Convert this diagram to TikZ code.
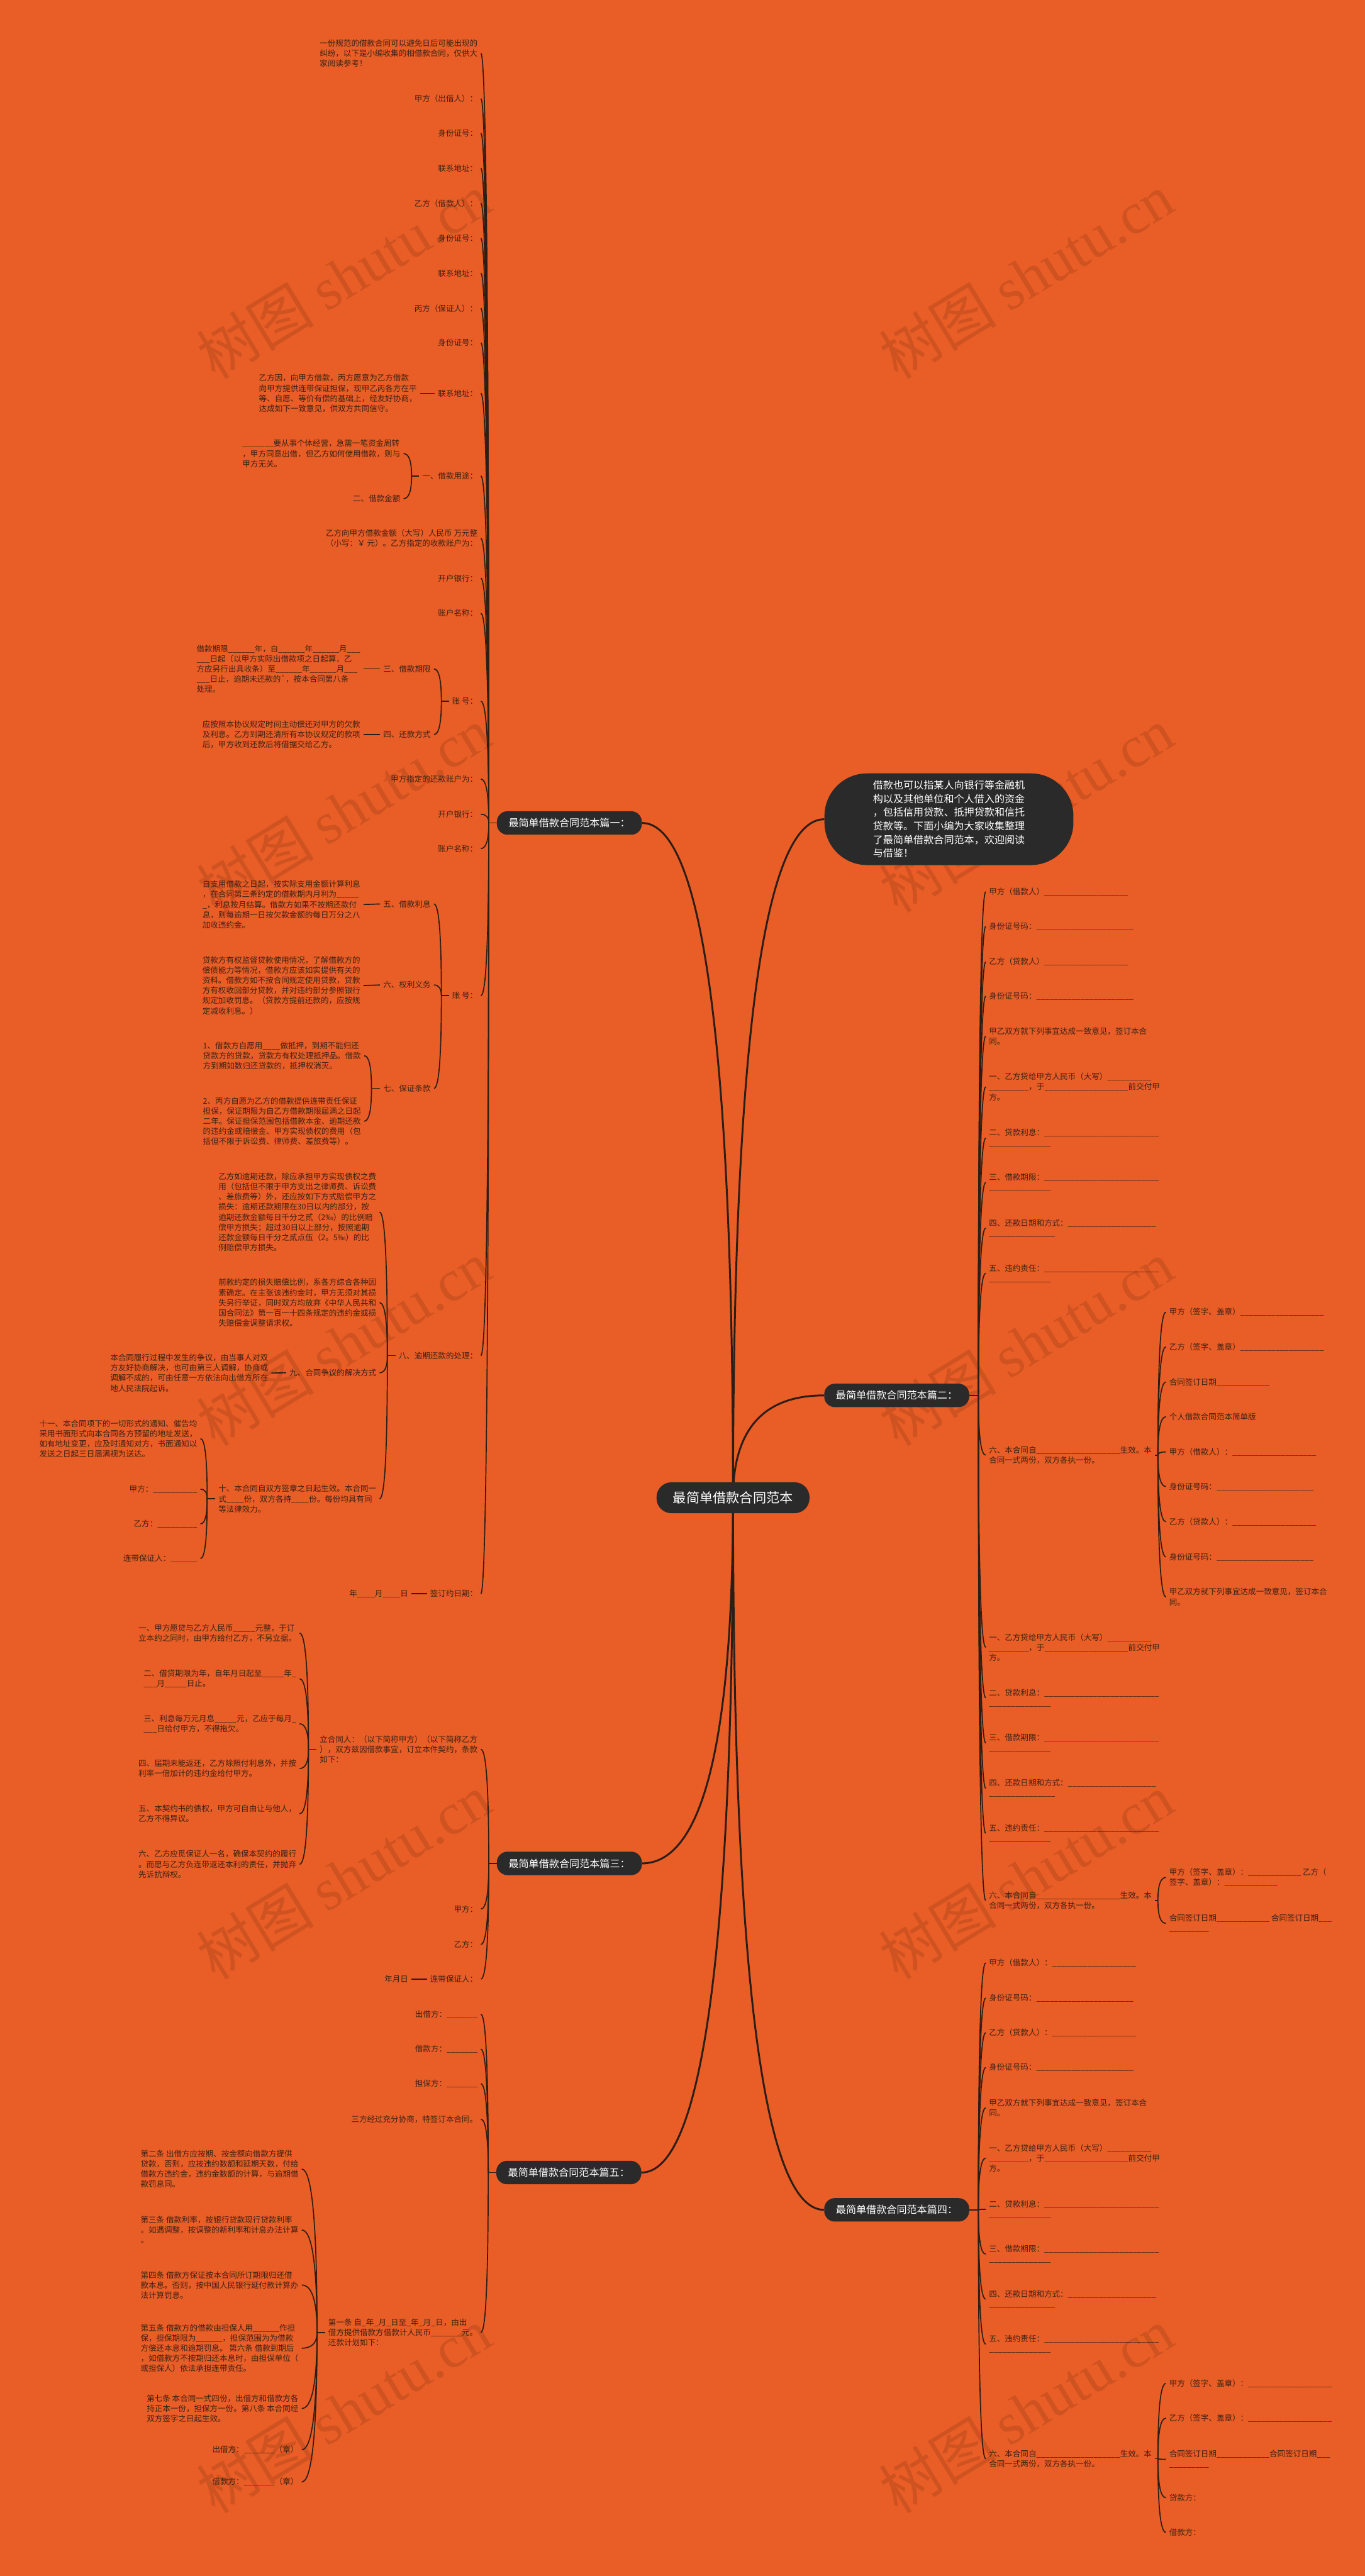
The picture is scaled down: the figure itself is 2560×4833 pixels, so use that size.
\documentclass[tikz,border=0pt]{standalone}
\usepackage{fontspec}
\setmainfont{Noto Sans CJK SC}
\newfontfamily\wmlatin{Liberation Serif}
\usetikzlibrary{calc}
\definecolor{bgorange}{HTML}{E95D26}
\definecolor{nodedark}{HTML}{2A2A2A}
\definecolor{inkline}{HTML}{2B1E16}
\definecolor{leaftext}{HTML}{3B2216}
\ExplSyntaxOn
\NewDocumentCommand\ublank{m}{\prg_replicate:nn{#1}{\_}}
\ExplSyntaxOff
\newcommand\leaffont{\fontsize{14.8}{19}\selectfont}
% curved connector: leaves the start vertically, enters the end horizontally
\newcommand\linkto[3][]{\draw[link,#1] let \p1=(#2), \p2=(#3) in (\p1) .. controls (\x1,{\y1+(\y2-\y1)*2/3}) and ({\x2+(\x1-\x2)*2/3},\y2) .. (\p2);}
\pgfdeclarelayer{paper}
\pgfdeclarelayer{wires}
\pgfsetlayers{paper,wires,main}
\tikzset{
  leaf/.style={font=\leaffont, text=leaftext, inner xsep=6pt, inner ysep=2pt, align=left},
  lnode/.style={leaf, anchor=east},
  rnode/.style={leaf, anchor=west},
  topic/.style={fill=nodedark, text=white, font=\fontsize{19}{24}\selectfont, rounded corners=20pt, minimum width=272pt, minimum height=44pt, inner sep=0pt},
  hub/.style={fill=nodedark, text=white, font=\fontsize{25}{30}\selectfont, rounded corners=28pt, minimum width=287pt, minimum height=58pt, inner sep=0pt},
  intro/.style={fill=nodedark, text=white, font=\fontsize{19}{25.5}\selectfont, rounded corners=80pt, minimum width=467pt, minimum height=172pt, align=left},
  link/.style={draw=inkline, line width=2pt},
  trunk/.style={line width=3.5pt},
  wm/.style={text=black, opacity=0.11, rotate=31.4, font=\fontsize{110}{110}\selectfont}
}
\begin{document}
\begin{tikzpicture}[x=1pt,y=-1pt]
\begin{pgfonlayer}{paper}
\fill[bgorange] (0,0) rectangle (2560,4833);
\foreach \wy in {518,1519,2520,3521,4522}
  \foreach \wx in {645,1925}
    \node[wm] (wm-\wx-\wy) at (\wx,\wy) {树图 {\wmlatin shutu.cn}};
\end{pgfonlayer}
\path[use as bounding box] (0,0) rectangle (2560,4833);

% centre and topics
\node[hub] (root) at (1375,2810) {最简单借款合同范本};
\node[intro] (intro) at (1780,1537) {借款也可以指某人向银行等金融机\\构以及其他单位和个人借入的资金\\，包括信用贷款、抵押贷款和信托\\贷款等。下面小编为大家收集整理\\了最简单借款合同范本，欢迎阅读\\与借鉴！};
\node[topic] (t1) at (1068,1544) {最简单借款合同范本篇一：};
\node[topic] (t3) at (1068,3496) {最简单借款合同范本篇三：};
\node[topic] (t5) at (1067,4076) {最简单借款合同范本篇五：};
\node[topic] (t2) at (1682,2618) {最简单借款合同范本篇二：};
\node[topic] (t4) at (1682,4146) {最简单借款合同范本篇四：};

% part one
\node[lnode] (a1) at (902,100) {一份规范的借款合同可以避免日后可能出现的\\纠纷，以下是小编收集的相借款合同，仅供大\\家阅读参考！};
\node[lnode] (a2) at (902,185) {甲方（出借人）：};
\node[lnode] (a3) at (902,250) {身份证号：};
\node[lnode] (a4) at (902,315.5) {联系地址：};
\node[lnode] (a5) at (902,381.5) {乙方（借款人）：};
\node[lnode] (a6) at (902,447) {身份证号：};
\node[lnode] (a7) at (902,512.5) {联系地址：};
\node[lnode] (a8) at (902,578.5) {丙方（保证人）：};
\node[lnode] (a9) at (902,643) {身份证号：};
\node[lnode] (a10) at (902,738) {联系地址：};
\node[lnode] (a10c) at (788,738) {乙方因，向甲方借款，丙方愿意为乙方借款\\向甲方提供连带保证担保，现甲乙丙各方在平\\等、自愿、等价有偿的基础上，经友好协商，\\达成如下一致意见，供双方共同信守。};
\node[lnode] (a11) at (902,893) {一、借款用途：};
\node[lnode] (a11a) at (757,851) {\ublank{7}要从事个体经营，急需一笔资金周转\\，甲方同意出借，但乙方如何使用借款，则与\\甲方无关。};
\node[lnode] (a11b) at (757,935.5) {二、借款金额};
\node[lnode] (a12) at (902,1010) {乙方向甲方借款金额（大写）人民币 万元整\\（小写：￥ 元）。乙方指定的收款账户为：};
\node[lnode] (a13) at (902,1084.7) {开户银行：};
\node[lnode] (a14) at (902,1150.7) {账户名称：};
\node[lnode] (a15) at (902,1315.7) {账 号：};
\node[lnode] (a15a) at (814,1255) {三、借款期限};
\node[lnode] (a15aa) at (682,1255) {借款期限\ublank{6}年，自\ublank{6}年\ublank{6}月\ublank{3}\\\ublank{3}日起（以甲方实际出借款项之日起算，乙\\方应另行出具收条）至\ublank{6}年\ublank{6}月\ublank{3}\\\ublank{3}日止，逾期未还款的\textasciigrave，按本合同第八条\\处理。};
\node[lnode] (a15b) at (814,1378) {四、还款方式};
\node[lnode] (a15ba) at (682,1378) {应按照本协议规定时间主动偿还对甲方的欠款\\及利息。乙方到期还清所有本协议规定的款项\\后，甲方收到还款后将借据交给乙方。};
\node[lnode] (a16) at (902,1461.6) {甲方指定的还款账户为：};
\node[lnode] (a17) at (902,1527.7) {开户银行：};
\node[lnode] (a18) at (902,1592) {账户名称：};
\node[lnode] (a19) at (902,1868) {账 号：};
\node[lnode] (a19a) at (814,1696) {五、借款利息};
\node[lnode] (a19aa) at (682,1697) {自支用借款之日起，按实际支用金额计算利息\\，在合同第三条约定的借款期内月利为\ublank{5}\\\_，利息按月结算。借款方如果不按期还款付\\息，则每逾期一日按欠款金额的每日万分之八\\加收违约金。};
\node[lnode] (a19b) at (814,1848) {六、权利义务};
\node[lnode] (a19ba) at (682,1849) {贷款方有权监督贷款使用情况，了解借款方的\\偿债能力等情况，借款方应该如实提供有关的\\资料。借款方如不按合同规定使用贷款，贷款\\方有权收回部分贷款，并对违约部分参照银行\\规定加收罚息。（贷款方提前还款的，应按规\\定减收利息。）};
\node[lnode] (a19c) at (814,2042) {七、保证条款};
\node[lnode] (a19ca) at (683,1980.7) {1、借款方自愿用\ublank{4}做抵押，到期不能归还\\贷款方的贷款，贷款方有权处理抵押品。借款\\方到期如数归还贷款的，抵押权消灭。};
\node[lnode] (a19cb) at (683,2103.6) {2、丙方自愿为乙方的借款提供连带责任保证\\担保，保证期限为自乙方借款期限届满之日起\\二年。保证担保范围包括借款本金、逾期还款\\的违约金或赔偿金、甲方实现债权的费用（包\\括但不限于诉讼费、律师费、差旅费等）。};
\node[lnode] (a20) at (902,2543.4) {八、逾期还款的处理：};
\node[lnode] (a20a) at (712,2274) {乙方如逾期还款，除应承担甲方实现债权之费\\用（包括但不限于甲方支出之律师费、诉讼费\\、差旅费等）外，还应按如下方式赔偿甲方之\\损失：逾期还款期限在30日以内的部分，按\\逾期还款金额每日千分之贰（2‰）的比例赔\\偿甲方损失；超过30日以上部分，按照逾期\\还款金额每日千分之贰点伍（2。5‰）的比\\例赔偿甲方损失。};
\node[lnode] (a20b) at (712,2444) {前款约定的损失赔偿比例，系各方综合各种因\\素确定。在主张该违约金时，甲方无须对其损\\失另行举证，同时双方均放弃《中华人民共和\\国合同法》第一百一十四条规定的违约金或损\\失赔偿金调整请求权。};
\node[lnode] (a20c) at (712,2575.5) {九、合同争议的解决方式};
\node[lnode] (a20ca) at (509,2576) {本合同履行过程中发生的争议，由当事人对双\\方友好协商解决，也可由第三人调解，协商或\\调解不成的，可由任意一方依法向出借方所在\\地人民法院起诉。};
\node[lnode] (a20d) at (712,2812) {十、本合同自双方签章之日起生效。本合同一\\式\ublank{4}份，双方各持\ublank{4}份。每份均具有同\\等法律效力。};
\node[lnode] (a20da) at (376,2699) {十一、本合同项下的一切形式的通知、催告均\\采用书面形式向本合同各方预留的地址发送，\\如有地址变更，应及时通知对方，书面通知以\\发送之日起三日届满视为送达。};
\node[lnode] (a20db) at (376,2794) {甲方：\ublank{10}};
\node[lnode] (a20dc) at (376,2859) {乙方：\ublank{9}};
\node[lnode] (a20dd) at (376,2924) {连带保证人：\ublank{6}};
\node[lnode] (a21) at (902,2990) {签订约日期：};
\node[lnode] (a21a) at (772,2990) {年\ublank{4}月\ublank{4}日};

% part three
\node[lnode] (c1) at (902,3282) {立合同人：（以下简称甲方）（以下简称乙方\\），双方兹因借款事宜，订立本件契约，条款\\如下：};
\node[lnode] (c1a) at (562,3064) {一、甲方愿贷与乙方人民币\ublank{5}元整，于订\\立本约之同时，由甲方给付乙方，不另立据。};
\node[lnode] (c1b) at (562,3149.5) {二、借贷期限为年，自年月日起至\ublank{5}年\_\\\ublank{3}月\ublank{5}日止。};
\node[lnode] (c1c) at (562,3234) {三、利息每万元月息\ublank{5}元，乙应于每月\_\\\ublank{3}日给付甲方，不得拖欠。};
\node[lnode] (c1d) at (562,3318) {四、届期未能返还，乙方除照付利息外，并按\\利率一倍加计的违约金给付甲方。};
\node[lnode] (c1e) at (562,3403) {五、本契约书的债权，甲方可自由让与他人，\\乙方不得异议。};
\node[lnode] (c1f) at (562,3497.6) {六、乙方应觅保证人一名，确保本契约的履行\\。而愿与乙方负连带返还本利的责任，并抛弃\\先诉抗辩权。};
\node[lnode] (c2) at (902,3581.6) {甲方：};
\node[lnode] (c3) at (902,3648) {乙方：};
\node[lnode] (c4) at (902,3713) {连带保证人：};
\node[lnode] (c4a) at (772,3713) {年月日};

% part five
\node[lnode] (e1) at (902,3779) {出借方：\ublank{7}};
\node[lnode] (e2) at (902,3844.5) {借款方：\ublank{7}};
\node[lnode] (e3) at (902,3909.5) {担保方：\ublank{7}};
\node[lnode] (e4) at (902,3976) {三方经过充分协商，特签订本合同。};
\node[lnode] (e5) at (902,4376) {第一条 自\_年\_月\_日至\_年\_月\_日，由出\\借方提供借款方借款计人民币\ublank{7}元。\\还款计划如下：};
\node[lnode] (e5a) at (566,4069.5) {第二条 出借方应按期、按金额向借款方提供\\贷款，否则，应按违约数额和延期天数，付给\\借款方违约金，违约金数额的计算，与逾期借\\款罚息同。};
\node[lnode] (e5b) at (566,4183.8) {第三条 借款利率，按银行贷款现行贷款利率\\。如遇调整，按调整的新利率和计息办法计算\\。};
\node[lnode] (e5c) at (566,4287) {第四条 借款方保证按本合同所订期限归还借\\款本息。否则，按中国人民银行延付款计算办\\法计算罚息。};
\node[lnode] (e5d) at (566,4405.5) {第五条 借款方的借款由担保人用\ublank{6}作担\\保，担保期限为\ublank{6}，担保范围为为借款\\方偿还本息和逾期罚息。 第六条 借款到期后\\，如借款方不按期归还本息时，由担保单位（\\或担保人）依法承担连带责任。};
\node[lnode] (e5e) at (566,4518.7) {第七条 本合同一式四份，出借方和借款方各\\持正本一份，担保方一份。第八条 本合同经\\双方签字之日起生效。};
\node[lnode] (e5f) at (566,4596) {出借方：\ublank{7}（章）};
\node[lnode] (e5g) at (566,4656.5) {借款方：\ublank{7}（章）};

% part two
\node[rnode] (b1) at (1849,1673) {甲方（借款人）\ublank{19}};
\node[rnode] (b2) at (1849,1738) {身份证号码：\ublank{22}};
\node[rnode] (b3) at (1849,1804.6) {乙方（贷款人）\ublank{19}};
\node[rnode] (b4) at (1849,1869) {身份证号码：\ublank{22}};
\node[rnode] (b5) at (1849,1944) {甲乙双方就下列事宜达成一致意见，签订本合\\同。};
\node[rnode] (b6) at (1849,2039) {一、乙方贷给甲方人民币（大写）\ublank{10}\\\ublank{9}，于\ublank{19}前交付甲\\方。};
\node[rnode] (b7) at (1849,2135) {二、贷款利息：\ublank{26}\\\ublank{14}};
\node[rnode] (b8) at (1849,2218.5) {三、借款期限：\ublank{26}\\\ublank{14}};
\node[rnode] (b9) at (1849,2304) {四、还款日期和方式：\ublank{20}\\\ublank{15}};
\node[rnode] (b10) at (1849,2389) {五、违约责任：\ublank{26}\\\ublank{14}};
\node[rnode] (b11) at (1849,2730) {六、本合同自\ublank{19}生效。本\\合同一式两份，双方各执一份。};
\node[rnode] (b11a) at (2187,2461.7) {甲方（签字、盖章）\ublank{19}};
\node[rnode] (b11b) at (2187,2527) {乙方（签字、盖章）\ublank{19}};
\node[rnode] (b11c) at (2187,2593) {合同签订日期\ublank{12}};
\node[rnode] (b11d) at (2187,2658) {个人借款合同范本简单版};
\node[rnode] (b11e) at (2187,2724) {甲方（借款人）：\ublank{19}};
\node[rnode] (b11f) at (2187,2789) {身份证号码：\ublank{22}};
\node[rnode] (b11g) at (2187,2855) {乙方（贷款人）：\ublank{19}};
\node[rnode] (b11h) at (2187,2921) {身份证号码：\ublank{22}};
\node[rnode] (b11i) at (2187,2996) {甲乙双方就下列事宜达成一致意见，签订本合\\同。};
\node[rnode] (b12) at (1849,3090.5) {一、乙方贷给甲方人民币（大写）\ublank{10}\\\ublank{9}，于\ublank{19}前交付甲\\方。};
\node[rnode] (b13) at (1849,3185.5) {二、贷款利息：\ublank{26}\\\ublank{14}};
\node[rnode] (b14) at (1849,3270) {三、借款期限：\ublank{26}\\\ublank{14}};
\node[rnode] (b15) at (1849,3355) {四、还款日期和方式：\ublank{20}\\\ublank{15}};
\node[rnode] (b16) at (1849,3439.5) {五、违约责任：\ublank{26}\\\ublank{14}};
\node[rnode] (b17) at (1849,3565.5) {六、本合同自\ublank{19}生效。本\\合同一式两份，双方各执一份。};
\node[rnode] (b17a) at (2187,3522.4) {甲方（签字、盖章）：\ublank{12} 乙方（\\签字、盖章）：\ublank{12}};
\node[rnode] (b17b) at (2187,3608.5) {合同签订日期\ublank{12} 合同签订日期\ublank{3}\\\ublank{9}};

% part four
\node[rnode] (d1) at (1849,3682.6) {甲方（借款人）：\ublank{19}};
\node[rnode] (d2) at (1849,3748.5) {身份证号码：\ublank{22}};
\node[rnode] (d3) at (1849,3813.5) {乙方（贷款人）：\ublank{19}};
\node[rnode] (d4) at (1849,3879) {身份证号码：\ublank{22}};
\node[rnode] (d5) at (1849,3954.7) {甲乙双方就下列事宜达成一致意见，签订本合\\同。};
\node[rnode] (d6) at (1849,4049) {一、乙方贷给甲方人民币（大写）\ublank{10}\\\ublank{9}，于\ublank{19}前交付甲\\方。};
\node[rnode] (d7) at (1849,4145) {二、贷款利息：\ublank{26}\\\ublank{14}};
\node[rnode] (d8) at (1849,4229) {三、借款期限：\ublank{26}\\\ublank{14}};
\node[rnode] (d9) at (1849,4313.5) {四、还款日期和方式：\ublank{20}\\\ublank{15}};
\node[rnode] (d10) at (1849,4398) {五、违约责任：\ublank{26}\\\ublank{14}};
\node[rnode] (d11) at (1849,4613) {六、本合同自\ublank{19}生效。本\\合同一式两份，双方各执一份。};
\node[rnode] (d11a) at (2187,4471.7) {甲方（签字、盖章）：\ublank{19}};
\node[rnode] (d11b) at (2187,4536.8) {乙方（签字、盖章）：\ublank{19}};
\node[rnode] (d11c) at (2187,4614) {合同签订日期\ublank{12}合同签订日期\ublank{3}\\\ublank{9}};
\node[rnode] (d11d) at (2187,4686) {贷款方：};
\node[rnode] (d11e) at (2187,4751) {借款方：};

% junctions
\coordinate (j1) at ([xshift=-15pt]t1.west);
\coordinate (j3) at ([xshift=-15pt]t3.west);
\coordinate (j5) at ([xshift=-15pt]t5.west);
\coordinate (j2) at ([xshift=17pt]t2.east);
\coordinate (j4) at ([xshift=17pt]t4.east);
\coordinate (j11) at ([xshift=-14pt]a11.west);
\coordinate (j15) at ([xshift=-14pt]a15.west);
\coordinate (j19) at ([xshift=-14pt]a19.west);
\coordinate (j19c) at ([xshift=-16pt]a19c.west);
\coordinate (j20) at ([xshift=-15pt]a20.west);
\coordinate (j20d) at ([xshift=-15pt]a20d.west);
\coordinate (jc1) at ([xshift=-15pt]c1.west);
\coordinate (je5) at ([xshift=-15pt]e5.west);
\coordinate (jb11) at (2172,2730);
\coordinate (jb17) at (2172,3565.5);
\coordinate (jd11) at (2172,4613);

\begin{pgfonlayer}{wires}
% main branches
\foreach \tp in {t1,t3,t5} \linkto[trunk]{root.center}{\tp.east};
\foreach \tp in {t2,t4,intro} \linkto[trunk]{root.center}{\tp.west};
% part one
\draw[link] (t1.west) -- (j1);
\foreach \i in {1,...,21} \linkto{j1}{a\i.east};
\draw[link] (a10.west) -- (a10c.east);
\draw[link] (a11.west) -- (j11);
\foreach \nm in {a11a,a11b} \linkto{j11}{\nm.east};
\draw[link] (a15.west) -- (j15);
\foreach \nm in {a15a,a15b} \linkto{j15}{\nm.east};
\draw[link] (a15a.west) -- (a15aa.east);
\draw[link] (a15b.west) -- (a15ba.east);
\draw[link] (a19.west) -- (j19);
\foreach \nm in {a19a,a19b,a19c} \linkto{j19}{\nm.east};
\draw[link] (a19a.west) -- (a19aa.east);
\draw[link] (a19b.west) -- (a19ba.east);
\draw[link] (a19c.west) -- (j19c);
\foreach \nm in {a19ca,a19cb} \linkto{j19c}{\nm.east};
\draw[link] (a20.west) -- (j20);
\foreach \nm in {a20a,a20b,a20c,a20d} \linkto{j20}{\nm.east};
\draw[link] (a20c.west) -- (a20ca.east);
\draw[link] (a20d.west) -- (j20d);
\foreach \nm in {a20da,a20db,a20dc,a20dd} \linkto{j20d}{\nm.east};
\draw[link] (a21.west) -- (a21a.east);
% part three
\draw[link] (t3.west) -- (j3);
\foreach \nm in {c1,c2,c3,c4} \linkto{j3}{\nm.east};
\draw[link] (c1.west) -- (jc1);
\foreach \nm in {c1a,c1b,c1c,c1d,c1e,c1f} \linkto{jc1}{\nm.east};
\draw[link] (c4.west) -- (c4a.east);
% part five
\draw[link] (t5.west) -- (j5);
\foreach \nm in {e1,e2,e3,e4,e5} \linkto{j5}{\nm.east};
\draw[link] (e5.west) -- (je5);
\foreach \nm in {e5a,e5b,e5c,e5d,e5e,e5f,e5g} \linkto{je5}{\nm.east};
% part two
\draw[link] (t2.east) -- (j2);
\foreach \i in {1,...,17} \linkto{j2}{b\i.west};
\draw[link] (b11.east) -- (jb11);
\foreach \nm in {b11a,b11b,b11c,b11d,b11e,b11f,b11g,b11h,b11i} \linkto{jb11}{\nm.west};
\draw[link] (b17.east) -- (jb17);
\foreach \nm in {b17a,b17b} \linkto{jb17}{\nm.west};
% part four
\draw[link] (t4.east) -- (j4);
\foreach \i in {1,...,11} \linkto{j4}{d\i.west};
\draw[link] (d11.east) -- (jd11);
\foreach \nm in {d11a,d11b,d11c,d11d,d11e} \linkto{jd11}{\nm.west};
\end{pgfonlayer}
\end{tikzpicture}
\end{document}
